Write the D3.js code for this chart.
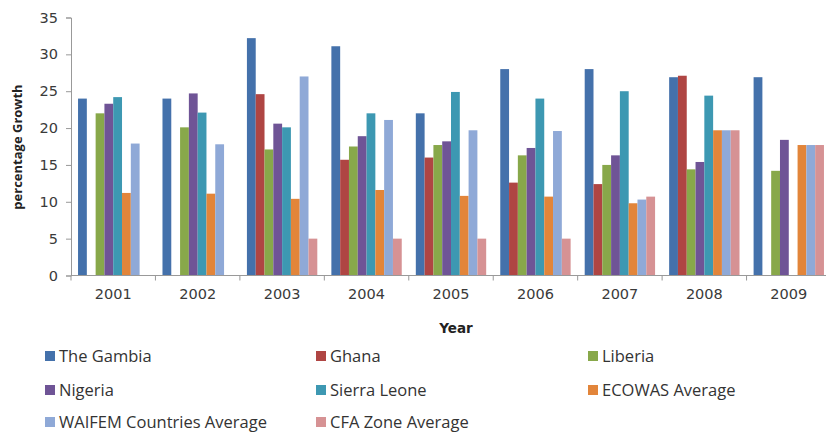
<!DOCTYPE html>
<html>
<head>
<meta charset="utf-8">
<script src="https://cdn.jsdelivr.net/npm/d3@7"></script>
<style>
  html, body { margin: 0; padding: 0; background: #fff; }
  svg { display: block; }
</style>
</head>
<body>
<svg id="chart" width="826" height="434"></svg>
<script>
// Annual percentage growth by country / regional average
const years = ["2001", "2002", "2003", "2004", "2005", "2006", "2007", "2008", "2009"];
const seriesNames = ["The Gambia", "Ghana", "Liberia", "Nigeria", "Sierra Leone",
                     "ECOWAS Average", "WAIFEM Countries Average", "CFA Zone Average"];
const gambia      = [24.0, 24.0, 32.2, 31.1, 22.0, 28.0, 28.0, 26.9, 26.9];
const ghana       = [null, null, 24.6, 15.7, 16.0, 12.6, 12.4, 27.1, null];
const liberia     = [22.0, 20.1, 17.1, 17.5, 17.7, 16.3, 15.0, 14.4, 14.2];
const nigeria     = [23.3, 24.7, 20.6, 18.9, 18.2, 17.3, 16.3, 15.4, 18.4];
const sierraLeone = [24.2, 22.1, 20.1, 22.0, 24.9, 24.0, 25.0, 24.4, null];
const ecowas      = [11.2, 11.1, 10.4, 11.6, 10.8, 10.7, 9.8, 19.7, 17.7];
const waifem      = [17.9, 17.8, 27.0, 21.1, 19.7, 19.6, 10.3, 19.7, 17.7];
const cfa         = [null, null, 5.0, 5.0, 5.0, 5.0, 10.7, 19.7, 17.7];
const yTicks = [0, 5, 10, 15, 20, 25, 30, 35];
const colors = ["#4471AB", "#AF4543", "#88A84A", "#6F5496", "#3D98B2", "#E2853A", "#8FA9D7", "#D69294"];

const seriesValues = [gambia, ghana, liberia, nigeria, sierraLeone, ecowas, waifem, cfa];
const svg = d3.select("#chart");

const plot = { left: 71, right: 831, top: 17.5, bottom: 275.5 };

const x0 = d3.scaleBand().domain(years).range([plot.left, plot.right]).paddingInner(0).paddingOuter(0);
const x1 = d3.scaleBand().domain(seriesNames).range([0, x0.bandwidth()]).paddingInner(0).paddingOuter(0.8);
const y = d3.scaleLinear().domain([0, 35]).range([plot.bottom, plot.top]);
const color = d3.scaleOrdinal().domain(seriesNames).range(colors);

// Bars
const groups = svg.append("g").selectAll("g")
  .data(years)
  .join("g")
  .attr("transform", d => `translate(${x0(d)},0)`);

groups.selectAll("rect")
  .data((yr, i) => seriesNames.map((s, k) => ({ s, v: seriesValues[k][i] })).filter(d => d.v != null))
  .join("rect")
  .attr("x", d => x1(d.s))
  .attr("width", x1.bandwidth())
  .attr("y", d => y(d.v))
  .attr("height", d => y(0) - y(d.v))
  .attr("fill", d => color(d.s));

// Y axis
const yAxis = svg.append("g")
  .attr("transform", `translate(${plot.left},0)`)
  .call(d3.axisLeft(y).tickValues(yTicks).tickSize(5).tickPadding(8).tickFormat(d3.format("d")));
yAxis.select(".domain").attr("stroke", "#999");
yAxis.selectAll(".tick line").attr("stroke", "#999");
yAxis.selectAll(".tick text")
  .attr("font-family", "DejaVu Sans")
  .attr("font-size", 14.5)
  .attr("fill", "#3a3a3a");

// X axis: ticks sit on category boundaries
const xAxisG = svg.append("g").attr("transform", `translate(0,${plot.bottom})`);
xAxisG.append("line")
  .attr("x1", plot.left).attr("x2", plot.right)
  .attr("stroke", "#999");
xAxisG.selectAll("line.tk")
  .data(years)
  .join("line")
  .attr("class", "tk")
  .attr("x1", d => x0(d)).attr("x2", d => x0(d))
  .attr("y1", 0).attr("y2", 5)
  .attr("stroke", "#999");
xAxisG.selectAll("text")
  .data(years)
  .join("text")
  .attr("x", d => x0(d) + x0.bandwidth() / 2)
  .attr("y", 23)
  .attr("text-anchor", "middle")
  .attr("font-family", "DejaVu Sans")
  .attr("font-size", 14.5)
  .attr("fill", "#3a3a3a")
  .text(d => d);

// Axis titles
svg.append("text")
  .attr("x", 456).attr("y", 333)
  .attr("text-anchor", "middle")
  .attr("font-family", "DejaVu Sans")
  .attr("font-weight", "bold")
  .attr("font-size", 13.5)
  .attr("fill", "#222")
  .text("Year");

svg.append("text")
  .attr("transform", "translate(22,147) rotate(-90)")
  .attr("text-anchor", "middle")
  .attr("font-family", "Open Sans")
  .attr("font-weight", "bold")
  .attr("font-size", 13)
  .attr("fill", "#222")
  .text("percentage Growth");

// Legend: three columns
const legendCols = [45, 316, 588];
const legendRows = [356, 390, 422];
const legend = svg.append("g").selectAll("g")
  .data(seriesNames)
  .join("g")
  .attr("transform", (d, i) => `translate(${legendCols[i % 3]},${legendRows[Math.floor(i / 3)]})`);
legend.append("rect")
  .attr("x", 0).attr("y", -5)
  .attr("width", 10).attr("height", 10)
  .attr("fill", d => color(d));
legend.append("text")
  .attr("x", 14).attr("y", 0)
  .attr("dy", "0.35em")
  .attr("font-family", "Open Sans")
  .attr("font-size", 16.5)
  .attr("fill", "#333")
  .text(d => d);
</script>
</body>
</html>
